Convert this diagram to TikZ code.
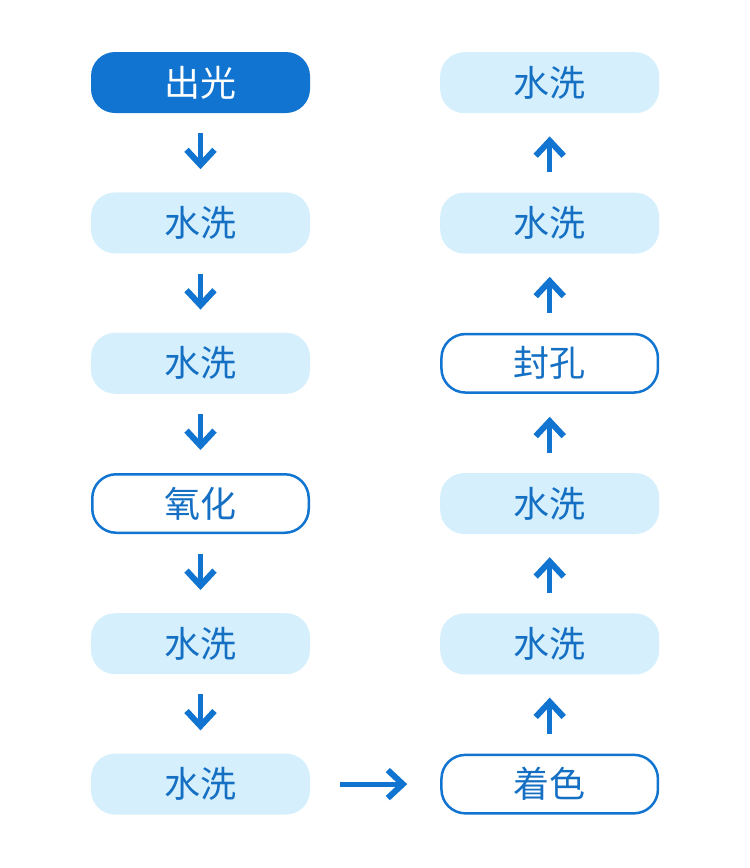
\documentclass[tikz,border=0pt]{standalone}
\usepackage{fontspec}
\newfontfamily\cjk{Noto Sans CJK SC}
\usepackage{xcolor}
\usetikzlibrary{arrows.meta, positioning}

\definecolor{tiefblau}{HTML}{1174D0}
\definecolor{hellblau}{HTML}{D5F0FC}
\definecolor{textblau}{HTML}{1570C4}

\begin{document}
\begin{tikzpicture}[x=1pt, y=-1pt,
    schritt/.style={minimum width=219pt, minimum height=61pt, rounded corners=24pt, inner sep=0pt,
      font=\cjk\fontsize{36}{36}\selectfont, text=textblau},
    hell/.style={schritt, fill=hellblau},
    voll/.style={schritt, fill=tiefblau, text=white},
    rand/.style={schritt, draw=tiefblau, line width=2.5pt, fill=white,
      minimum width=216.5pt, minimum height=58.5pt},
    pfeil/.style={-{Straight Barb[length=15pt, width=28pt, line width=6pt]}, line width=5pt, draw=tiefblau,
      shorten <=20pt, shorten >=23pt}]
      \useasboundingbox (0,0) rectangle (750,868);

      % linke Spalte
      \node[voll] (l1) at (200.5,82.5) {出光};
      \node[hell] (l2) [below=79pt of l1] {水洗};
      \node[hell] (l3) [below=79pt of l2] {水洗};
      \node[rand] (l4) [below=79pt of l3] {氧化};
      \node[hell] (l5) [below=79pt of l4] {水洗};
      \node[hell] (l6) [below=79pt of l5] {水洗};

      % rechte Spalte
      \node[rand] (r6) [right=130pt of l6] {着色};
      \node[hell] (r5) [above=79pt of r6] {水洗};
      \node[hell] (r4) [above=79pt of r5] {水洗};
      \node[rand] (r3) [above=79pt of r4] {封孔};
      \node[hell] (r2) [above=79pt of r3] {水洗};
      \node[hell] (r1) [above=79pt of r2] {水洗};

      \foreach \a/\b in {l1/l2, l2/l3, l3/l4, l4/l5, l5/l6, r6/r5, r5/r4, r4/r3, r3/r2, r2/r1}
        \draw[pfeil] (\a) -- (\b);
      \draw[pfeil, shorten <=30pt, shorten >=33pt] (l6) -- (r6);
    \end{tikzpicture}
\end{document}
